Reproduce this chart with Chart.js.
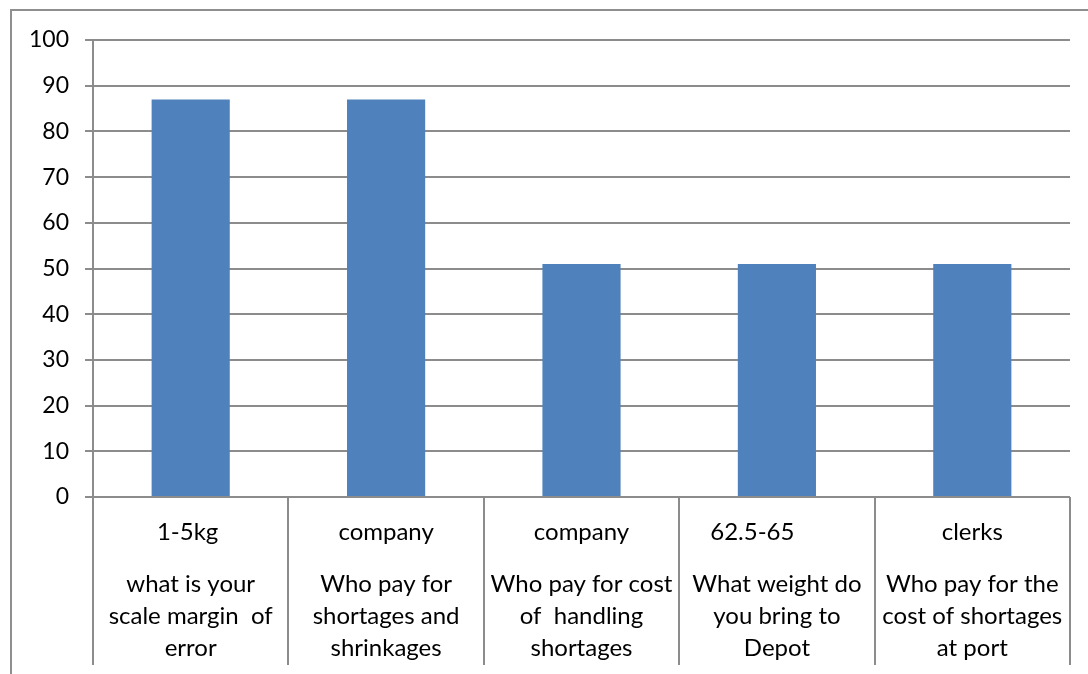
<!DOCTYPE html>
<html>
<head>
<meta charset="utf-8">
<script src="https://cdn.jsdelivr.net/npm/chart.js@4/dist/chart.umd.min.js"></script>
<style>
  html, body { margin: 0; padding: 0; background: #fff; }
  #wrap { width: 1088px; height: 674px; position: relative; }
</style>
</head>
<body>
<div id="wrap"><canvas id="c" width="1088" height="674"></canvas></div>
<script>
const answers = ['1-5kg ', 'company', 'company', '62.5-65        ', 'clerks'];
const questions = [
  ['what is your', 'scale margin  of', 'error'],
  ['Who pay for', 'shortages and', 'shrinkages'],
  ['Who pay for cost', 'of  handling', 'shortages'],
  ['What weight do', 'you bring to', 'Depot'],
  ['Who pay for the', 'cost of shortages', 'at port']
];
const values = [87, 87, 51, 51, 51];
const yTicks = [0, 10, 20, 30, 40, 50, 60, 70, 80, 90, 100];

const FONT = 'Lato, "Open Sans", sans-serif';
const GRID = '#8c8c8c';

const multiLevel = {
  id: 'multiLevel',
  beforeDraw(chart) {
    const ctx = chart.ctx;
    ctx.save();
    ctx.strokeStyle = '#8f8f8f';
    ctx.lineWidth = 2;
    ctx.beginPath();
    ctx.moveTo(11, 674);
    ctx.lineTo(11, 10);
    ctx.lineTo(1088, 10);
    ctx.stroke();
    ctx.restore();
  },
  afterDraw(chart) {
    const ctx = chart.ctx;
    const xs = chart.scales.x;
    const area = chart.chartArea;
    const n = answers.length;
    const w = (area.right - area.left) / n;
    ctx.save();
    ctx.strokeStyle = GRID;
    ctx.lineWidth = 2;
    for (let i = 0; i <= n; i++) {
      const x = Math.round(i < n ? xs.getPixelForValue(i) - w / 2 : xs.getPixelForValue(n - 1) + w / 2);
      ctx.beginPath();
      ctx.moveTo(x, area.bottom);
      ctx.lineTo(x, 665);
      ctx.stroke();
    }
    ctx.fillStyle = '#000';
    ctx.font = '24px ' + FONT;
    ctx.textAlign = 'center';
    ctx.textBaseline = 'middle';
    for (let i = 0; i < n; i++) {
      const cx = xs.getPixelForValue(i);
      ctx.fillText(answers[i], cx, 532);
      questions[i].forEach((line, j) => {
        ctx.fillText(line, cx, 584 + j * 32);
      });
    }
    ctx.restore();
  }
};

new Chart(document.getElementById('c'), {
  type: 'bar',
  data: {
    labels: answers.map(a => a.trim()),
    datasets: [{
      data: values,
      backgroundColor: '#4F81BD',
      borderWidth: 0,
      categoryPercentage: 1,
      barPercentage: 0.4
    }]
  },
  options: {
    responsive: false,
    animation: false,
    events: [],
    layout: { padding: { left: 0, top: 40, right: 18, bottom: 0 } },
    plugins: { legend: { display: false }, tooltip: { enabled: false } },
    scales: {
      x: {
        ticks: { display: false },
        grid: { display: false },
        border: { display: false },
        afterFit(s) { s.height = 177; }
      },
      y: {
        min: 0, max: 100,
        afterBuildTicks(s) { s.ticks = yTicks.map(v => ({ value: v })); },
        ticks: {
          color: '#000',
          font: { family: FONT, size: 23 },
          padding: 16
        },
        grid: { color: GRID, lineWidth: 2, tickLength: 8 },
        border: { color: GRID, width: 2 },
        afterFit(s) { s.width = 93; }
      }
    }
  },
  plugins: [multiLevel]
});
</script>
</body>
</html>
